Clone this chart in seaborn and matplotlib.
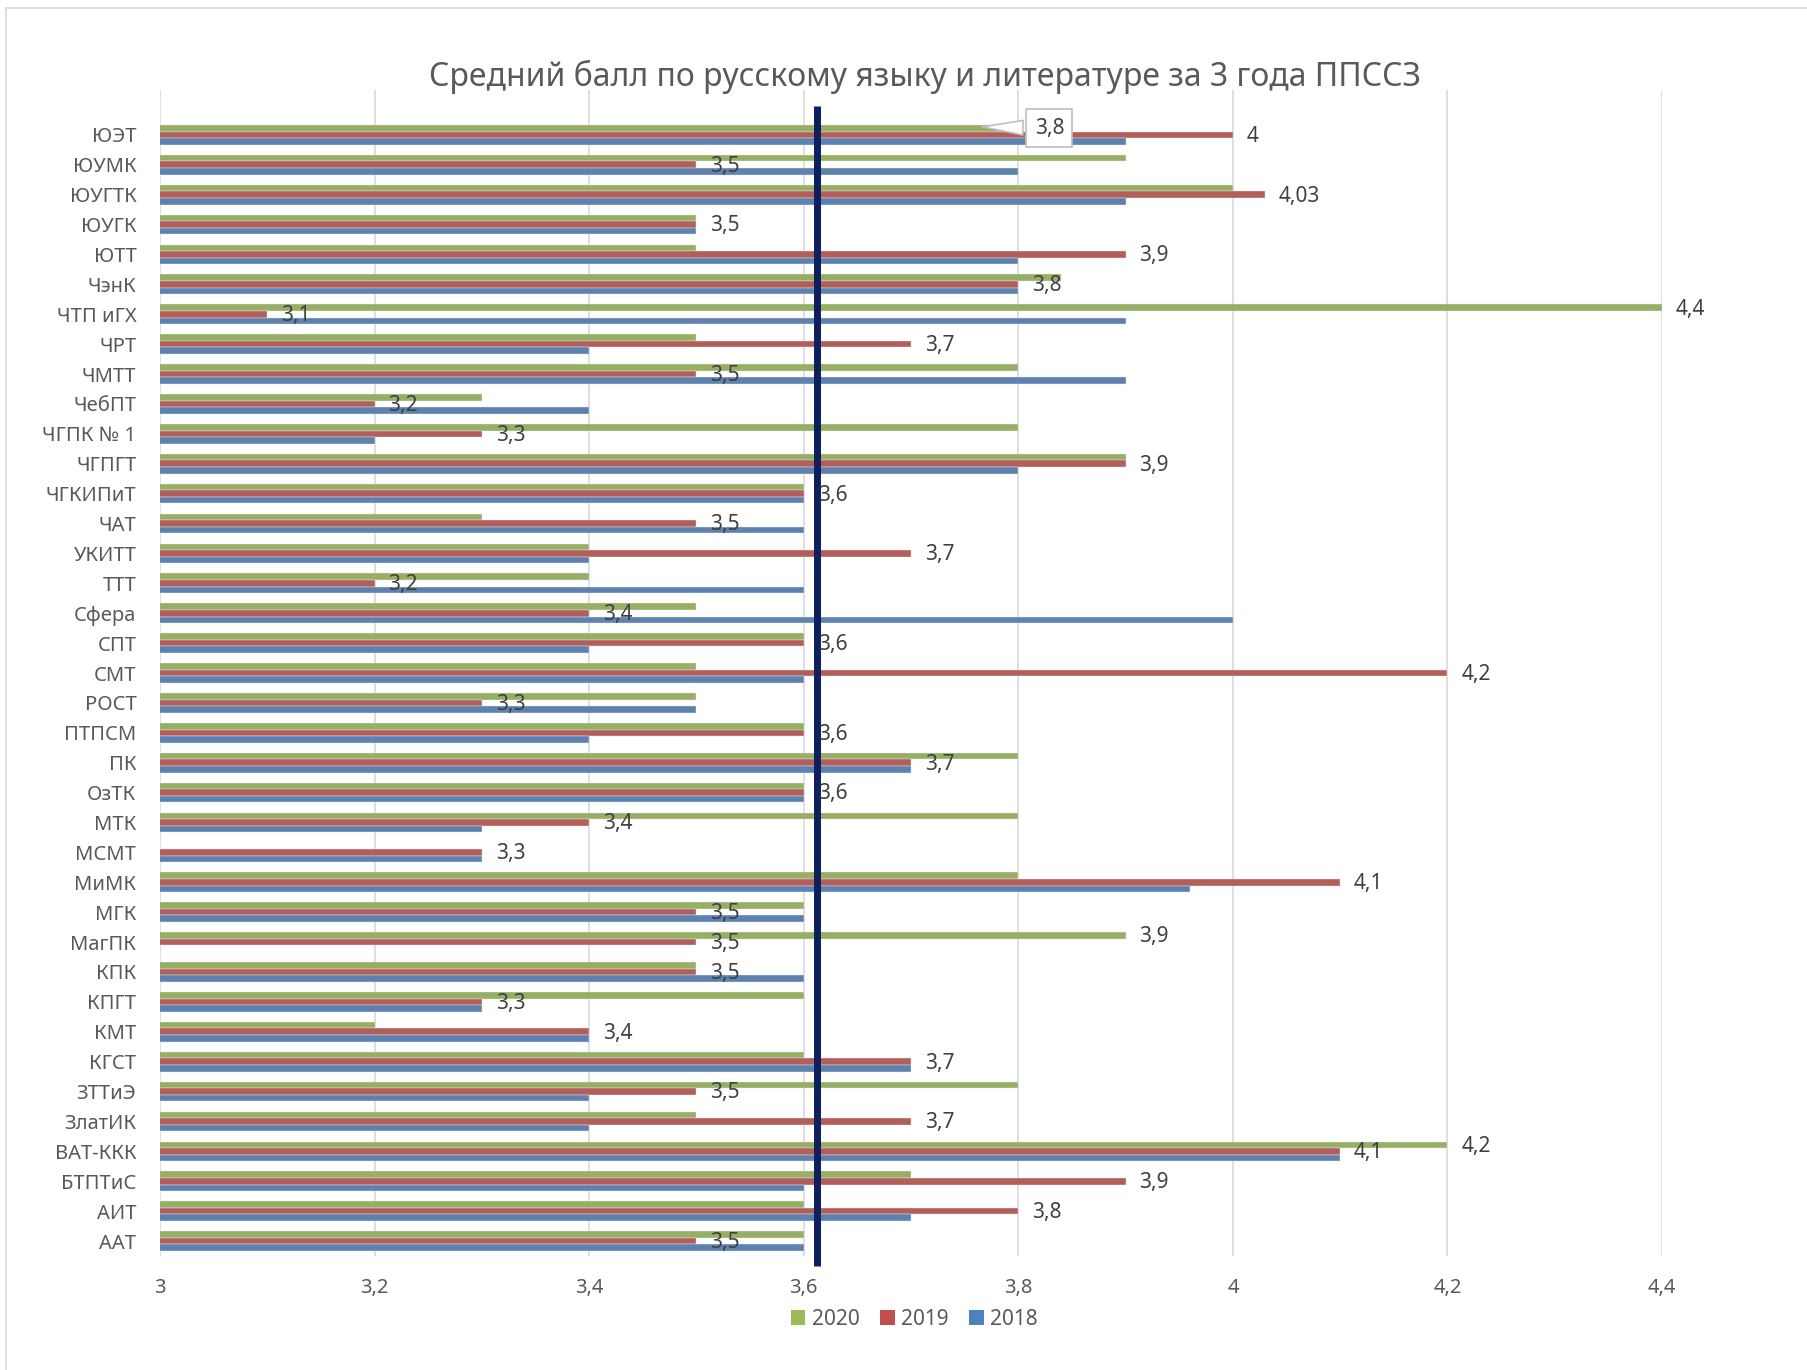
import numpy as np
import pandas as pd
import matplotlib.pyplot as plt
import seaborn as sns
from matplotlib.patches import Patch
from matplotlib.lines import Line2D

# colleges, top to bottom as in the chart
colleges = ['ЮЭТ', 'ЮУМК', 'ЮУГТК', 'ЮУГК', 'ЮТТ', 'ЧэнК', 'ЧТП иГХ', 'ЧРТ', 'ЧМТТ', 'ЧебПТ',
            'ЧГПК № 1', 'ЧГПГТ', 'ЧГКИПиТ', 'ЧАТ', 'УКИТТ', 'ТТТ', 'Сфера', 'СПТ', 'СМТ', 'РОСТ',
            'ПТПСМ', 'ПК', 'ОзТК', 'МТК', 'МСМТ', 'МиМК', 'МГК', 'МагПК', 'КПК', 'КПГТ',
            'КМТ', 'КГСТ', 'ЗТТиЭ', 'ЗлатИК', 'ВАТ-ККК', 'БТПТиС', 'АИТ', 'ААТ']

score_2020 = [3.8, 3.9, 4.0, 3.5, 3.5, 3.84, 4.4, 3.5, 3.8, 3.3,
              3.8, 3.9, 3.6, 3.3, 3.4, 3.4, 3.5, 3.6, 3.5, 3.5,
              3.6, 3.8, 3.6, 3.8, np.nan, 3.8, 3.6, 3.9, 3.5, 3.6,
              3.2, 3.6, 3.8, 3.5, 4.2, 3.7, 3.6, 3.6]
score_2019 = [4.0, 3.5, 4.03, 3.5, 3.9, 3.8, 3.1, 3.7, 3.5, 3.2,
              3.3, 3.9, 3.6, 3.5, 3.7, 3.2, 3.4, 3.6, 4.2, 3.3,
              3.6, 3.7, 3.6, 3.4, 3.3, 4.1, 3.5, 3.5, 3.5, 3.3,
              3.4, 3.7, 3.5, 3.7, 4.1, 3.9, 3.8, 3.5]
score_2018 = [3.9, 3.8, 3.9, 3.5, 3.8, 3.8, 3.9, 3.4, 3.9, 3.4,
              3.2, 3.8, 3.6, 3.6, 3.4, 3.6, 4.0, 3.4, 3.6, 3.5,
              3.4, 3.7, 3.6, 3.3, 3.3, 3.96, 3.6, np.nan, 3.6, 3.3,
              3.4, 3.7, 3.4, 3.4, 4.1, 3.6, 3.7, 3.6]

years = ['2020', '2019', '2018']
colors = ['#9BBB59', '#C0504D', '#4F81BD']
x_ticks = [3.0, 3.2, 3.4, 3.6, 3.8, 4.0, 4.2, 4.4]
avg_score = 3.612
green_labeled = ['ЧТП иГХ', 'МагПК', 'ВАТ-ККК']
callout_college = 'ЮЭТ'

title = 'Средний балл по русскому языку и литературе за 3 года ППССЗ'


def fmt(v):
    return f'{v:g}'.replace('.', ',')


df = pd.DataFrame({'college': colleges, '2020': score_2020, '2019': score_2019, '2018': score_2018})
long_df = df.melt(id_vars='college', var_name='year', value_name='score').dropna()

sns.set_theme(style='white')
plt.rcParams['font.family'] = ['Noto Sans', 'DejaVu Sans']

fig = plt.figure(figsize=(18.07, 13.70), dpi=100)
ax = fig.add_axes([0.0885, 0.0832, 0.8313, 0.8511])

sns.barplot(data=long_df, y='college', x='score', hue='year', hue_order=years, order=colleges,
            palette=colors, orient='h', width=0.66, errorbar=None, legend=False, ax=ax,
            edgecolor='#e8e8e8', linewidth=0.3)

ax.set_xlim(3, 4.4)
ax.set_ylim(len(colleges) - 0.5, -1.5)
ax.set_xticks(x_ticks)
ax.set_xticklabels([fmt(t) for t in x_ticks])
ax.set(xlabel='', ylabel='')
ax.grid(axis='x', color='#d9d9d9', lw=1.2)
ax.set_axisbelow(True)
for s in ax.spines.values():
    s.set_visible(False)
ax.tick_params(axis='x', length=0, pad=16, labelsize=14.5, labelcolor='#595959')
ax.tick_params(axis='y', length=0, pad=17, labelsize=14.5, labelcolor='#595959')

bar_h = 0.66 / 3

# average line
ax.plot([avg_score, avg_score], [-0.95, len(colleges) - 0.17], color='#0d1f5c', lw=5,
        clip_on=False, zorder=5, solid_capstyle='butt')

# labels for 2019
for i, v in enumerate(score_2019):
    ax.annotate(fmt(v), (v, i), xytext=(10, -1), textcoords='offset points',
                va='center', ha='left', fontsize=15, color='#404040', zorder=6)

# labels for selected 2020 bars
for name in green_labeled:
    i = colleges.index(name)
    v = score_2020[i]
    ax.annotate(fmt(v), (v, i - bar_h), xytext=(10, -1), textcoords='offset points',
                va='center', ha='left', fontsize=15, color='#404040', zorder=6)

# callout label for 2020
i = colleges.index(callout_college)
v = score_2020[i]
ax.annotate(fmt(v), xy=(v - 0.036, i - bar_h - 0.05), xytext=(v + 0.029, i - bar_h),
            va='center', ha='center', fontsize=15, color='#404040', zorder=7,
            bbox=dict(boxstyle='square,pad=0.4', fc='white', ec='#bfbfbf', lw=1.2),
            arrowprops=dict(arrowstyle='wedge,tail_width=0.7', fc='white', ec='#bfbfbf', lw=1.2))

fig.text(0.512, 0.944, title, ha='center', va='center', fontsize=23, color='#595959')

handles = [Patch(facecolor=c, edgecolor='none', label=y) for y, c in zip(years, colors)]
fig.legend(handles=handles, loc='center', bbox_to_anchor=(0.506, 0.037), ncol=3, frameon=False,
           handlelength=0.7, handleheight=0.7, handletextpad=0.3, columnspacing=1.0,
           fontsize=15, labelcolor='#595959')

# chart border
fig.add_artist(Line2D([0.0035, 0.0035], [0, 0.994], color='#d9d9d9', lw=1.2))
fig.add_artist(Line2D([0.0035, 1], [0.994, 0.994], color='#d9d9d9', lw=1.2))

fig.savefig('out.png', dpi=100)
